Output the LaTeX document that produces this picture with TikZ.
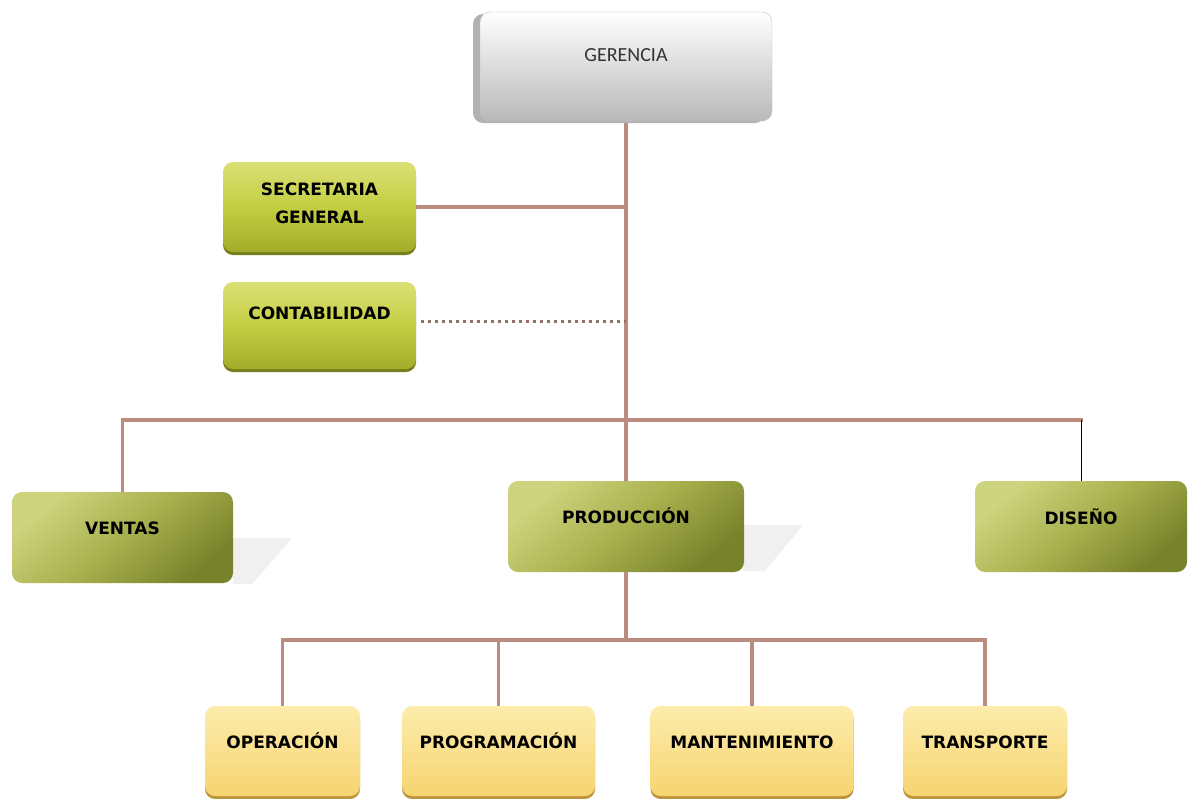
\documentclass[tikz,border=0pt]{standalone}
\usepackage{fontspec}
\setmainfont{DejaVu Sans}
\newfontfamily\gerfont{Carlito}
\usetikzlibrary{shadows,backgrounds}
\definecolor{linebrown}{RGB}{186,140,128}
\definecolor{dotbrown}{RGB}{150,112,102}
\definecolor{oliveL}{RGB}{206,212,125}
\definecolor{oliveM}{RGB}{168,176,78}
\definecolor{oliveD}{RGB}{120,130,42}
\definecolor{limeL}{RGB}{218,224,118}
\definecolor{limeM}{RGB}{196,206,66}
\definecolor{limeD}{RGB}{162,172,40}
\definecolor{limeS}{RGB}{118,126,30}
\definecolor{sandL}{RGB}{253,236,172}
\definecolor{sandD}{RGB}{246,212,112}
\definecolor{sandS}{RGB}{188,150,62}
\begin{document}
\begin{tikzpicture}[x=1pt,y=-1pt,font=\bfseries\fontsize{17}{28}\selectfont,
  box/.style={rounded corners=10pt,inner sep=0pt,minimum width=#1},
  lift/.style={text height=12pt,text depth=#1},
  boss/.style={box=292pt,minimum height=109pt,top color=white,bottom color=gray!55,draw=gray!50,
    font=\gerfont\fontsize{20}{24}\selectfont,text=black!80,
    drop shadow={shadow xshift=-7pt,shadow yshift=-2pt,fill=gray!60,opacity=1}},
  staff/.style={box=193pt,top color=limeL,bottom color=limeD,middle color=limeM,
    drop shadow={shadow xshift=0pt,shadow yshift=-3pt,fill=limeS,opacity=1}},
  dept/.style={box=#1,minimum height=91pt,top color=oliveL,bottom color=oliveD,middle color=oliveM,shading angle=40},
  unit/.style={box=#1,minimum height=90pt,top color=sandL,bottom color=sandD,lift=18pt,
    drop shadow={shadow xshift=0pt,shadow yshift=-3pt,fill=sandS,opacity=1}},
  conn/.style={draw=linebrown,line width=3.5pt,line cap=rect}]
\useasboundingbox (0,0) rectangle (1193,798);

\node[boss,lift=23pt] (ger) at (626,66.5) {GERENCIA};
\node[staff,minimum height=90pt,align=center,text depth=8pt] (sec) at (319.5,207) {SECRETARIA\\GENERAL};
\node[staff,minimum height=87pt,lift=24pt] (cont) at (319.5,325.5) {CONTABILIDAD};

\node[dept=221pt,lift=19pt] (ven) at (122.5,537.5) {VENTAS};
\node[dept=236pt,lift=19pt] (pro) at (626,526.5) {PRODUCCIÓN};
\node[dept=212pt,lift=17pt] (dis) at (1081,526.5) {DISEÑO};

\foreach \name/\x/\w/\txt in {ope/282.5/155/OPERACIÓN,prg/498.5/193/PROGRAMACIÓN,
  man/752/203/MANTENIMIENTO,tra/985/164/TRANSPORTE}
  \node[unit=\w pt] (\name) at (\x,751) {\txt};

\coordinate (j1) at (626,420);
\coordinate (j2) at (626,640);

\begin{scope}[on background layer]
% soft shadows beside the departments
\fill[gray!12] (233,538) -- (292,538) -- (252,584) -- (233,584) -- cycle;
\fill[gray!12] (744,525) -- (803,525) -- (765,571) -- (744,571) -- cycle;
\draw[conn] (ger.south) -- (j1);
\draw[conn] (sec.east) -- (sec.east -| j1);
\draw[draw=dotbrown,line width=3.5pt,dash pattern=on 3pt off 4pt] ([xshift=5pt,yshift=4pt]cont.east) -- ([yshift=4pt]cont.east -| j1);
\draw[conn] (ven.north) |- (j1) -- (pro.north);
\draw[conn] (j1) -- (j1 -| dis.north);
\draw[black,line width=1pt] (j1 -| dis.north) -- (dis.north);
\draw[conn] (pro.south) -- (j2);
\draw[conn] (ope.north |- j2) -- (tra.north |- j2);
\foreach \name in {ope,prg,man,tra} \draw[conn] (\name.north |- j2) -- (\name.north);
\end{scope}
\end{tikzpicture}
\end{document}
